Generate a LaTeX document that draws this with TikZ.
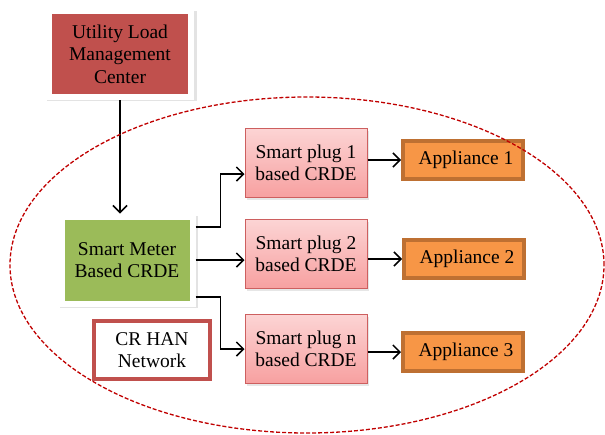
\documentclass[tikz,border=0pt]{standalone}
\usepackage{fontspec}
\setmainfont{Liberation Serif}
\usetikzlibrary{arrows.meta,shadows}

\definecolor{ulmred}{RGB}{192,80,77}
\definecolor{metergreen}{RGB}{155,187,89}
\definecolor{applorange}{RGB}{247,150,70}
\definecolor{applborder}{RGB}{190,112,50}
\definecolor{plugtop}{RGB}{252,212,212}
\definecolor{plugbot}{RGB}{247,160,160}
\definecolor{plugborder}{RGB}{205,95,95}
\definecolor{ellred}{RGB}{192,0,0}

\begin{document}
\begin{tikzpicture}[x=1pt,y=-1pt,
  txt/.style={font=\fontsize{19.5}{22.5}\selectfont,align=center,inner sep=0pt},
  framed/.style={txt,draw=white,line width=6pt,drop shadow={opacity=0.22,shadow scale=1.055,shadow xshift=2pt,shadow yshift=-2pt}},
  plugbox/.style={txt,draw=plugborder,line width=1pt,top color=plugtop,bottom color=plugbot,minimum width=122pt,minimum height=69pt,drop shadow={opacity=0.2,shadow xshift=2pt,shadow yshift=-2pt}},
  applbox/.style={txt,fill=applorange,draw=applborder,line width=4pt,minimum width=120pt,minimum height=38pt},
  hanbox/.style={txt,fill=white,draw=ulmred,line width=4pt,minimum width=116pt,minimum height=58pt},
  link/.style={-{Straight Barb[length=7pt,width=14pt]},line width=1.5pt}]
\useasboundingbox (0,0) rectangle (605,434);
\node[framed,fill=ulmred,minimum width=142pt,minimum height=86pt] (ulm) at (120,54) {Utility Load\\Management\\Center};
\node[framed,fill=metergreen,minimum width=131pt,minimum height=87pt] (mtr) at (127,260) {Smart Meter\\Based CRDE};
\node[hanbox] (han) at (152,350) {CR HAN\\Network};
\node[plugbox] (pl1) at (306,163) {Smart plug 1\\based CRDE};
\node[plugbox] (pl2) at (306,254) {Smart plug 2\\based CRDE};
\node[plugbox] (pl3) at (306,349) {Smart plug n\\based CRDE};
\node[applbox] (ap1) at (463,160) {\hspace{6pt}Appliance 1};
\node[applbox] (ap2) at (464,259) {\hspace{6pt}Appliance 2};
\node[applbox] (ap3) at (463,352) {\hspace{6pt}Appliance 3};
\draw [link] (ulm.south) -- (ulm.south |- mtr.north);
\draw [link] ([yshift=33pt]mtr.east) -- ++(25,0) |- ([yshift=-11pt]pl1.west);
\draw [link] (mtr.east) -- (mtr.east -| pl2.west);
\draw [link] ([yshift=-37pt]mtr.east) -- ++(25,0) |- (pl3.west);
\draw [link] (pl1.east |- ap1) -- (ap1);
\draw [link] (pl2.east |- ap2) -- (ap2);
\draw [link] (pl3.east |- ap3) -- (ap3);
\draw [ellred,line width=1.3pt,dash pattern=on 4pt off 2pt] (307,265) ellipse [x radius=297pt, y radius=168pt];
\end{tikzpicture}
\end{document}
